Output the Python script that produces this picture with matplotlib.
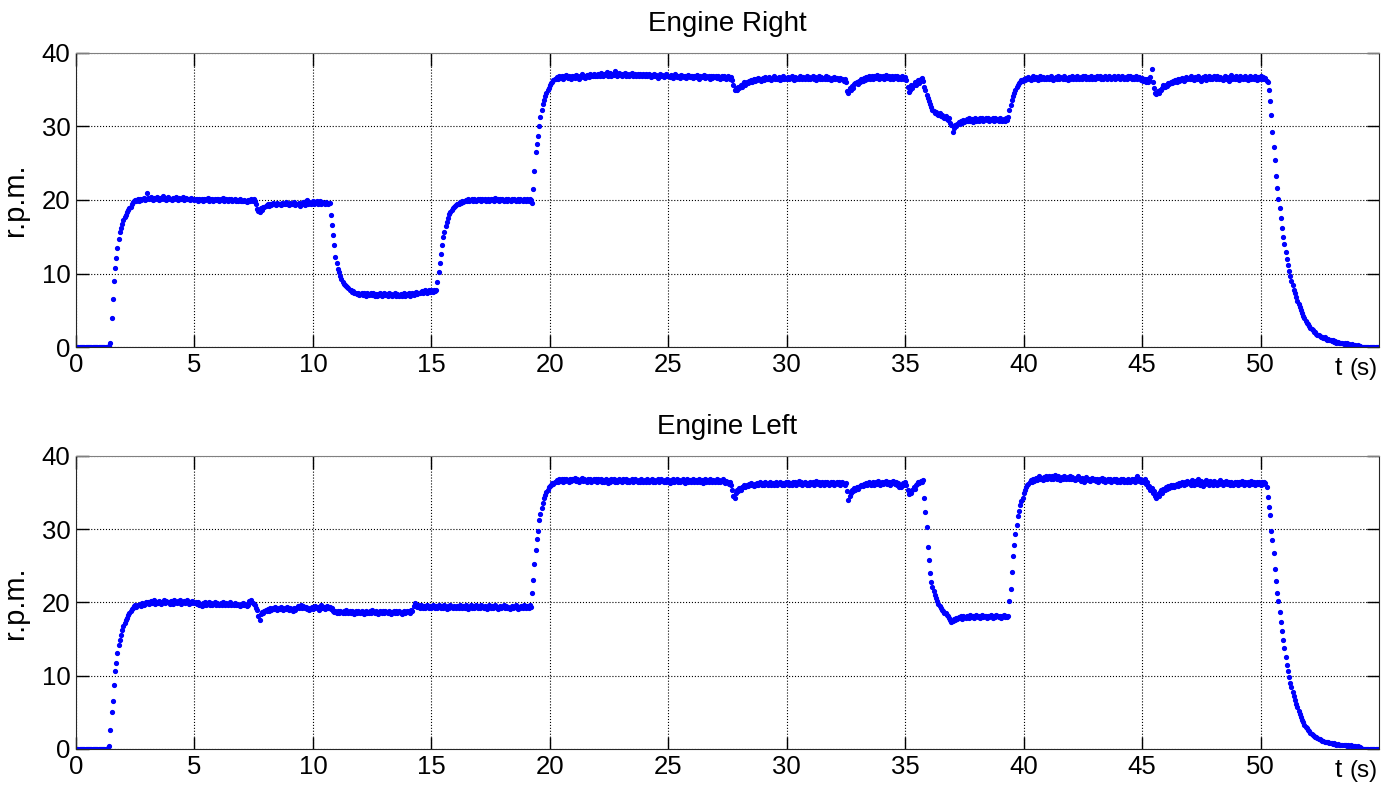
import numpy as np
from matplotlib import pyplot as plt

plt.rcParams['font.family'] = ['Liberation Sans', 'DejaVu Sans']

DT = 0.05  # sample period [s], one row below = one second

rpmRight = [
    0, 0, 0, 0, 0, 0, 0, 0, 0, 0, 0, 0, 0, 0, 0, 0, 0, 0, 0, 0,
    0, 0, 0, 0, 0, 0, 0, 0, 0.1, 0.5, 3.9, 6.6, 9.0, 10.8, 12.1, 13.5, 14.7, 15.6, 16.2, 16.7,
    17.3, 17.7, 18.0, 18.3, 18.6, 18.9, 19.1, 19.4, 19.7, 19.9, 20.0, 19.9, 20.1, 19.9, 20.2, 20.0, 20.1, 20.3, 20.0, 20.2,
    20.9, 20.3, 20.1, 20.4, 20.2, 20.0, 20.3, 20.1, 20.4, 20.2, 20.0, 20.3, 20.2, 20.5, 20.1, 20.3, 20.0, 20.2, 20.4, 20.1,
    20.2, 20.0, 20.3, 20.1, 20.4, 20.2, 20.0, 20.3, 20.1, 20.2, 20.4, 20.0, 20.2, 20.3, 20.1, 20.2, 20.0, 20.3, 20.1, 20.2,
    20.0, 20.2, 20.1, 19.9, 20.2, 20.0, 20.1, 19.9, 20.2, 20.0, 20.1, 20.3, 19.9, 20.1, 20.0, 20.2, 19.9, 20.1, 20.0, 20.2,
    20.1, 19.9, 20.2, 20.0, 20.3, 19.9, 20.1, 20.2, 19.8, 20.1, 20.0, 20.2, 19.9, 20.0, 20.1, 19.9, 20.0, 19.8, 20.1, 19.9,
    19.9, 19.8, 20.0, 19.9, 19.7, 20.0, 19.8, 19.9, 20.1, 19.9, 20.2, 19.9, 19.4, 18.8, 18.5, 18.3, 18.9, 18.6, 19.0, 19.1,
    19.2, 19.3, 19.4, 19.2, 19.5, 19.3, 19.6, 19.4, 19.5, 19.3, 19.6, 19.4, 19.5, 19.3, 19.6, 19.4, 19.5, 19.7, 19.4, 19.5,
    19.3, 19.6, 19.4, 19.5, 19.7, 19.3, 19.5, 19.4, 19.6, 19.2, 19.5, 19.4, 19.7, 19.3, 19.9, 20.0, 19.5, 19.7, 19.4, 19.6,
    19.8, 19.5, 19.7, 19.9, 19.4, 19.6, 19.8, 19.5, 19.7, 19.6, 19.5, 19.7, 19.6, 19.4, 19.6, 18.0, 16.6, 15.2, 13.9, 12.3,
    11.4, 10.6, 10.2, 9.6, 9.3, 8.9, 8.6, 8.5, 8.3, 8.2, 8.0, 7.8, 7.7, 7.5, 7.6, 7.3, 7.4, 7.2, 7.3, 7.1,
    7.2, 7.4, 7.1, 7.3, 7.2, 7.0, 7.3, 7.1, 7.2, 7.4, 7.1, 7.3, 7.0, 7.2, 6.9, 7.2, 7.1, 7.3, 7.0, 7.2,
    7.3, 7.1, 7.2, 7.0, 7.3, 7.1, 7.2, 7.0, 7.1, 7.3, 7.0, 7.2, 7.1, 6.9, 7.2, 7.0, 7.1, 7.3, 7.0, 7.2,
    7.1, 7.3, 7.0, 7.2, 7.4, 7.1, 7.3, 7.5, 7.2, 7.4, 7.3, 7.5, 7.6, 7.3, 7.5, 7.7, 7.4, 7.6, 7.8, 7.5,
    7.7, 7.5, 7.8, 7.6, 7.7, 8.8, 10.2, 11.4, 12.7, 13.9, 15.0, 15.7, 16.4, 17.0, 17.6, 18.1, 18.4, 18.7, 18.9, 19.1,
    19.2, 19.3, 19.5, 19.4, 19.7, 19.6, 19.8, 19.7, 19.9, 20.0, 19.8, 20.1, 19.9, 20.0, 20.2, 19.9, 20.1, 20.0, 19.8, 20.1,
    20.0, 20.2, 19.9, 20.1, 20.0, 20.2, 19.8, 20.0, 20.1, 19.9, 20.2, 20.0, 20.1, 19.9, 20.3, 20.0, 20.1, 19.9, 20.2, 20.0,
    20.1, 19.9, 20.0, 20.2, 19.9, 20.1, 20.0, 19.8, 20.1, 20.0, 20.2, 19.9, 20.0, 20.1, 19.9, 20.2, 20.0, 19.9, 20.1, 20.0,
    19.9, 20.1, 19.8, 20.2, 20.0, 19.6, 21.5, 24.0, 26.5, 27.6, 28.7, 30.0, 31.3, 32.3, 33.0, 33.6, 34.1, 34.6, 35.0, 35.3,
    35.6, 35.9, 36.1, 36.3, 36.5, 36.4, 36.7, 36.5, 36.8, 36.6, 36.9, 36.5, 36.8, 36.7, 37.0, 36.6, 36.9, 36.7, 36.5, 36.8,
    36.9, 36.6, 37.0, 36.7, 36.9, 36.5, 36.8, 37.1, 36.7, 36.9, 36.6, 37.0, 36.8, 36.7, 37.1, 36.8, 36.9, 37.2, 36.8, 37.0,
    36.8, 37.1, 36.9, 37.3, 37.0, 36.8, 37.2, 37.0, 37.4, 36.9, 37.1, 37.3, 36.9, 37.2, 37.0, 37.5, 37.1, 36.9, 37.3, 37.0,
    37.2, 36.8, 37.1, 37.3, 36.9, 37.2, 37.0, 36.8, 37.1, 37.3, 36.9, 37.0, 37.2, 36.8, 37.1, 36.9, 37.2, 37.0, 36.8, 37.1,
    36.9, 37.2, 36.8, 37.0, 37.1, 36.7, 37.0, 36.9, 37.2, 36.8, 37.0, 36.6, 36.9, 37.1, 36.8, 37.0, 36.7, 36.9, 37.1, 36.8,
    36.9, 36.7, 37.0, 36.8, 36.6, 36.9, 37.1, 36.7, 36.9, 36.8, 36.6, 37.0, 36.8, 36.7, 36.9, 36.6, 36.8, 37.0, 36.7, 36.9,
    36.8, 36.6, 36.9, 36.7, 37.0, 36.8, 36.5, 36.9, 36.7, 36.8, 37.0, 36.6, 36.8, 36.7, 36.9, 36.5, 36.8, 36.6, 36.9, 36.7,
    36.8, 36.6, 36.9, 36.7, 36.5, 36.8, 36.6, 36.9, 36.7, 36.5, 36.8, 36.6, 36.4, 36.7, 36.3, 35.6, 35.0, 35.3, 34.9, 35.4,
    35.2, 35.6, 35.4, 35.8, 36.0, 35.7, 36.1, 35.9, 36.2, 36.0, 36.3, 36.1, 36.4, 36.2, 36.5, 36.3, 36.6, 36.4, 36.2, 36.5,
    36.6, 36.3, 36.7, 36.5, 36.4, 36.7, 36.5, 36.3, 36.6, 36.8, 36.4, 36.6, 36.5, 36.7, 36.3, 36.6, 36.5, 36.8, 36.4, 36.6,
    36.5, 36.7, 36.4, 36.6, 36.8, 36.5, 36.3, 36.7, 36.5, 36.6, 36.4, 36.8, 36.6, 36.5, 36.7, 36.4, 36.6, 36.9, 36.5, 36.7,
    36.4, 36.6, 36.8, 36.5, 36.7, 36.3, 36.6, 36.8, 36.5, 36.7, 36.4, 36.6, 36.5, 36.8, 36.4, 36.7, 36.5, 36.3, 36.6, 36.5,
    36.7, 36.4, 36.6, 36.5, 36.3, 36.6, 36.4, 36.5, 36.2, 36.4, 36.0, 34.8, 34.6, 35.2, 35.0, 35.5, 35.3, 35.8, 35.9, 36.1,
    35.8, 36.2, 36.0, 36.4, 36.2, 36.6, 36.3, 36.7, 36.5, 36.9, 36.4, 36.7, 36.9, 36.5, 36.8, 36.6, 37.0, 36.7, 36.5, 36.8,
    36.6, 36.9, 36.5, 36.8, 37.0, 36.6, 36.8, 36.4, 36.7, 36.9, 36.5, 36.8, 36.6, 36.9, 36.4, 36.7, 36.5, 36.8, 36.6, 36.4,
    36.7, 36.3, 35.4, 34.7, 35.0, 35.6, 35.2, 35.7, 36.0, 35.6, 36.1, 36.3, 35.9, 36.4, 36.6, 36.2, 35.4, 35.0, 34.3, 33.9,
    33.4, 33.0, 32.6, 32.3, 32.1, 31.9, 32.0, 31.7, 31.6, 31.8, 31.4, 31.5, 31.3, 31.2, 31.4, 31.0, 30.9, 31.1, 30.5, 30.2,
    29.3, 29.8, 30.2, 30.0, 30.4, 30.6, 30.3, 30.7, 30.5, 30.9, 30.6, 30.8, 31.0, 30.7, 31.1, 30.8, 31.0, 30.6, 30.9, 31.1,
    30.8, 31.0, 30.7, 31.2, 30.9, 31.1, 30.8, 31.0, 31.2, 30.9, 31.1, 30.7, 31.0, 30.9, 31.2, 30.8, 31.1, 30.9, 31.0, 30.8,
    31.1, 30.9, 30.7, 31.0, 30.8, 31.1, 30.9, 31.3, 32.2, 32.9, 33.6, 34.1, 34.6, 35.0, 35.4, 35.7, 35.9, 36.1, 36.3, 36.2,
    36.5, 36.3, 36.6, 36.4, 36.7, 36.5, 36.3, 36.6, 36.8, 36.4, 36.7, 36.5, 36.3, 36.6, 36.8, 36.5, 36.7, 36.4, 36.6, 36.5,
    36.7, 36.4, 36.6, 36.8, 36.5, 36.3, 36.6, 36.7, 36.4, 36.9, 36.5, 36.7, 36.6, 36.4, 36.8, 36.5, 36.6, 36.3, 36.7, 36.5,
    36.6, 36.8, 36.4, 36.7, 36.5, 36.9, 36.6, 36.4, 36.7, 36.5, 36.8, 36.6, 36.9, 36.5, 36.7, 36.4, 36.6, 36.8, 36.5, 36.7,
    36.5, 36.7, 36.9, 36.6, 36.8, 36.5, 36.7, 36.4, 36.6, 36.8, 36.5, 36.7, 36.9, 36.6, 36.4, 36.7, 36.8, 36.5, 36.7, 36.6,
    36.8, 36.5, 36.7, 36.9, 36.6, 36.4, 36.7, 36.5, 36.8, 36.6, 36.9, 36.5, 36.7, 36.4, 36.6, 36.8, 36.5, 36.7, 36.6, 36.3,
    36.6, 36.2, 36.5, 36.0, 36.4, 36.1, 36.3, 36.7, 37.8, 36.0, 35.2, 34.6, 34.4, 34.8, 34.5, 35.0, 34.9, 35.3, 35.6, 35.4,
    35.7, 35.5, 35.9, 35.8, 36.1, 35.9, 36.2, 36.0, 36.3, 36.1, 36.4, 36.2, 36.5, 36.3, 36.6, 36.2, 36.5, 36.7, 36.4, 36.6,
    36.5, 36.8, 36.4, 36.6, 36.3, 36.7, 36.5, 36.9, 36.4, 36.6, 36.2, 36.7, 36.5, 36.8, 36.3, 36.6, 36.9, 36.5, 36.7, 36.4,
    36.6, 36.8, 36.5, 36.9, 36.6, 36.4, 36.7, 36.5, 36.3, 36.6, 36.8, 36.4, 36.7, 36.2, 36.6, 37.0, 36.5, 36.7, 36.4, 36.8,
    36.5, 36.7, 36.3, 36.8, 36.6, 36.4, 36.7, 36.9, 36.5, 36.3, 36.6, 36.8, 36.5, 36.7, 36.4, 36.9, 36.6, 36.3, 36.7, 36.5,
    36.8, 36.4, 36.7, 36.5, 36.6, 36.2, 36.0, 35.0, 33.5, 31.5, 29.3, 27.2, 25.5, 23.3, 21.7, 20.1, 18.9, 17.6, 16.2, 15.0,
    14.0, 12.9, 12.0, 11.2, 10.4, 9.7, 9.0, 8.4, 7.8, 7.3, 6.8, 6.3, 5.8, 5.4, 5.0, 4.6, 4.2, 3.9, 3.6, 3.3,
    3.1, 2.8, 2.6, 2.4, 2.3, 2.1, 2.0, 1.8, 1.7, 1.7, 1.5, 1.4, 1.4, 1.2, 1.3, 1.1, 1.0, 1.1, 0.9, 0.9,
    0.8, 0.9, 0.7, 0.8, 0.6, 0.7, 0.6, 0.5, 0.6, 0.5, 0.4, 0.5, 0.4, 0.5, 0.3, 0.4, 0.3, 0.4, 0.3, 0.2,
    0.3, 0.2, 0.3, 0.2, 0.1, 0, 0, 0, 0, 0, 0, 0, 0, 0, 0, 0, 0, 0, 0, 0,
    0,
]

rpmLeft = [
    0, 0, 0, 0, 0, 0, 0, 0, 0, 0, 0, 0, 0, 0, 0, 0, 0, 0, 0, 0,
    0, 0, 0, 0, 0, 0, 0, 0.2, 0.4, 2.6, 5.0, 6.6, 8.7, 10.6, 11.8, 13.1, 14.2, 14.9, 15.5, 16.2,
    16.8, 17.2, 17.6, 17.9, 18.3, 18.6, 18.8, 19.1, 19.3, 19.5, 19.6, 19.4, 19.7, 19.6, 19.8, 19.5, 19.9, 19.7, 19.8, 20.0,
    19.9, 20.1, 19.8, 20.2, 19.9, 20.0, 20.3, 19.8, 20.1, 19.9, 20.2, 20.0, 19.8, 20.1, 20.3, 19.9, 20.2, 20.0, 20.1, 19.8,
    20.2, 20.0, 19.8, 20.3, 20.1, 19.9, 20.2, 20.0, 20.3, 19.8, 20.1, 20.2, 19.9, 20.0, 20.3, 19.8, 20.1, 19.9, 20.2, 20.0,
    19.9, 20.1, 19.8, 20.0, 19.6, 19.8, 19.5, 19.9, 19.7, 20.0, 19.6, 19.8, 20.1, 19.7, 19.9, 19.6, 19.8, 20.0, 19.7, 19.9,
    19.8, 19.6, 19.9, 19.7, 20.0, 19.8, 19.6, 19.9, 19.7, 19.8, 20.0, 19.6, 19.8, 19.7, 19.9, 19.6, 19.8, 19.7, 19.5, 19.8,
    19.7, 19.9, 19.6, 19.8, 19.5, 19.7, 20.2, 20.0, 20.3, 19.9, 19.8, 19.6, 19.3, 19.0, 18.2, 17.6, 18.4, 18.7, 18.6, 18.9,
    19.0, 18.8, 19.1, 18.9, 19.2, 19.0, 19.3, 19.1, 19.4, 19.2, 19.0, 19.3, 19.1, 19.4, 19.2, 19.0, 19.3, 19.1, 19.4, 19.2,
    19.0, 19.3, 19.1, 18.9, 19.2, 19.0, 19.3, 19.5, 19.2, 19.4, 19.6, 19.3, 19.5, 19.2, 19.4, 19.1, 19.3, 19.0, 19.2, 19.4,
    19.1, 19.3, 19.5, 19.2, 19.4, 19.0, 19.3, 19.6, 19.2, 19.4, 19.1, 19.3, 19.5, 19.2, 19.4, 19.1, 19.3, 18.9, 18.7, 18.9,
    18.6, 18.8, 18.5, 18.9, 18.7, 18.5, 18.8, 18.6, 19.0, 18.7, 18.5, 18.8, 18.6, 18.9, 18.7, 18.4, 18.8, 18.6, 18.9, 18.7,
    18.5, 18.8, 18.6, 18.4, 18.7, 18.9, 18.6, 18.5, 18.8, 18.6, 19.0, 18.7, 18.5, 18.8, 18.6, 18.4, 18.7, 18.9, 18.5, 18.8,
    18.6, 18.9, 18.7, 18.5, 18.8, 18.6, 18.4, 18.7, 18.9, 18.6, 18.8, 18.5, 18.7, 18.9, 18.6, 18.4, 18.7, 18.9, 18.6, 18.8,
    18.7, 18.9, 18.6, 19.0, 18.8, 19.5, 19.9, 19.6, 19.4, 19.7, 19.3, 19.6, 19.4, 19.2, 19.5, 19.3, 19.6, 19.4, 19.2, 19.5,
    19.3, 19.6, 19.4, 19.2, 19.5, 19.3, 19.6, 19.4, 19.2, 19.5, 19.3, 19.6, 19.4, 19.1, 19.5, 19.3, 19.6, 19.4, 19.2, 19.5,
    19.4, 19.2, 19.5, 19.3, 19.6, 19.4, 19.2, 19.5, 19.3, 19.6, 19.4, 19.1, 19.4, 19.6, 19.3, 19.5, 19.2, 19.4, 19.6, 19.3,
    19.5, 19.3, 19.6, 19.4, 19.2, 19.5, 19.3, 19.1, 19.4, 19.6, 19.3, 19.5, 19.2, 19.4, 19.6, 19.3, 19.1, 19.4, 19.5, 19.2,
    19.4, 19.6, 19.3, 19.5, 19.2, 19.4, 19.1, 19.3, 19.5, 19.2, 19.4, 19.6, 19.3, 19.1, 19.4, 19.2, 19.5, 19.3, 19.6, 19.4,
    19.2, 19.5, 19.3, 19.6, 19.4, 21.3, 23.0, 25.3, 27.1, 28.6, 29.8, 31.2, 32.1, 32.9, 33.6, 34.2, 34.7, 35.1, 35.4, 35.7,
    35.9, 36.1, 36.3, 36.2, 36.5, 36.4, 36.7, 36.5, 36.8, 36.6, 36.9, 36.5, 36.8, 36.6, 36.9, 36.7, 36.5, 36.8, 36.6, 36.9,
    36.7, 37.0, 36.6, 36.9, 36.7, 36.5, 36.8, 37.0, 36.6, 36.9, 36.7, 36.5, 36.8, 36.6, 36.9, 36.4, 36.7, 36.9, 36.6, 36.8,
    36.5, 36.8, 36.6, 36.9, 36.4, 36.7, 36.5, 36.8, 36.6, 36.3, 36.7, 36.5, 36.8, 36.6, 36.9, 36.5, 36.7, 36.4, 36.8, 36.6,
    36.7, 36.4, 36.8, 36.6, 36.9, 36.5, 36.7, 36.4, 36.6, 36.8, 36.5, 36.7, 36.9, 36.6, 36.4, 36.7, 36.5, 36.8, 36.6, 36.4,
    36.7, 36.5, 36.8, 36.6, 36.4, 36.7, 36.9, 36.5, 36.7, 36.4, 36.6, 36.8, 36.5, 36.7, 36.9, 36.6, 36.4, 36.7, 36.5, 36.8,
    36.6, 36.3, 36.7, 36.5, 36.8, 36.4, 36.6, 36.9, 36.5, 36.7, 36.4, 36.6, 36.8, 36.5, 36.3, 36.7, 36.9, 36.5, 36.7, 36.4,
    36.6, 36.8, 36.5, 36.7, 36.4, 36.6, 36.9, 36.5, 36.7, 36.3, 36.6, 36.8, 36.5, 36.7, 36.4, 36.8, 36.6, 36.5, 36.7, 36.4,
    36.6, 36.8, 36.5, 36.7, 36.4, 36.6, 36.8, 36.5, 36.3, 36.6, 36.4, 36.2, 36.5, 36.0, 35.4, 34.6, 34.3, 34.9, 35.4, 35.2,
    35.6, 35.4, 35.8, 35.7, 36.0, 35.8, 36.1, 35.9, 36.2, 36.0, 36.3, 36.1, 35.9, 36.2, 36.0, 36.3, 36.1, 36.4, 36.2, 36.0,
    36.3, 36.1, 36.4, 36.2, 36.0, 36.3, 36.5, 36.1, 36.3, 36.0, 36.2, 36.4, 36.1, 36.3, 36.5, 36.2, 36.0, 36.3, 36.1, 36.4,
    36.2, 36.5, 36.1, 36.3, 36.0, 36.4, 36.2, 36.5, 36.1, 36.3, 36.6, 36.2, 36.4, 36.1, 36.3, 36.5, 36.2, 36.0, 36.3, 36.1,
    36.4, 36.2, 36.5, 36.1, 36.3, 36.6, 36.2, 36.4, 36.0, 36.3, 36.5, 36.1, 36.4, 36.2, 36.5, 36.3, 36.0, 36.4, 36.2, 36.5,
    36.1, 36.3, 36.5, 36.2, 36.4, 36.1, 36.3, 36.5, 36.2, 36.0, 36.3, 35.2, 34.0, 34.6, 35.0, 35.4, 35.2, 35.6, 35.4, 35.7,
    35.5, 35.8, 35.9, 36.1, 35.9, 36.2, 36.0, 36.3, 36.1, 36.4, 36.2, 36.0, 36.3, 36.5, 36.1, 36.4, 36.2, 36.6, 36.3, 36.1,
    36.4, 36.2, 36.5, 36.3, 36.6, 36.2, 36.4, 36.1, 36.5, 36.3, 36.6, 36.2, 36.4, 36.1, 36.3, 35.8, 35.7, 36.0, 36.3, 36.1,
    36.4, 36.0, 35.3, 34.8, 35.2, 34.9, 35.4, 35.7, 35.5, 36.0, 36.2, 36.5, 36.3, 36.6, 36.4, 36.7, 34.2, 32.4, 30.3, 27.6,
    25.8, 24.0, 22.8, 22.1, 21.5, 21.0, 20.6, 20.2, 19.8, 19.5, 19.2, 19.0, 18.8, 18.6, 18.5, 18.3, 18.1, 17.9, 17.6, 17.4,
    17.5, 17.7, 17.6, 17.9, 17.8, 18.0, 17.9, 18.1, 17.8, 18.2, 18.0, 17.9, 18.2, 18.1, 17.9, 18.3, 18.0, 18.2, 17.9, 18.1,
    18.3, 18.0, 18.2, 17.9, 18.1, 18.3, 18.0, 18.2, 18.1, 17.9, 18.2, 18.0, 18.3, 18.1, 17.9, 18.2, 18.0, 18.3, 18.1, 18.0,
    18.2, 17.9, 18.1, 18.3, 18.0, 18.2, 18.0, 18.1, 20.2, 21.9, 24.2, 26.3, 27.9, 29.3, 30.6, 31.8, 32.5, 33.3, 33.9, 34.3,
    34.9, 35.4, 35.7, 36.0, 36.2, 36.4, 36.7, 36.5, 36.8, 36.6, 37.0, 36.7, 36.9, 37.2, 36.8, 37.0, 36.7, 37.1, 36.9, 37.2,
    36.9, 37.3, 37.0, 36.8, 37.2, 36.9, 37.4, 37.1, 36.8, 37.2, 37.0, 36.7, 37.1, 36.9, 37.3, 37.0, 36.8, 37.1, 36.9, 37.2,
    36.8, 37.1, 36.9, 36.7, 37.0, 36.8, 37.2, 36.9, 36.6, 37.0, 36.8, 36.5, 36.9, 37.1, 36.7, 36.9, 36.6, 36.8, 37.0, 36.7,
    36.9, 36.6, 36.8, 36.5, 36.9, 36.7, 37.0, 36.6, 36.8, 36.5, 36.7, 36.9, 36.6, 36.8, 36.4, 36.7, 36.9, 36.6, 36.8, 36.5,
    36.7, 36.5, 36.8, 36.6, 36.9, 36.5, 36.7, 36.4, 36.8, 36.6, 36.5, 36.8, 36.6, 36.9, 36.5, 36.7, 37.3, 36.6, 36.8, 36.5,
    36.7, 36.4, 36.9, 36.2, 36.5, 35.7, 35.9, 35.4, 35.6, 35.0, 35.2, 34.6, 34.2, 34.8, 34.5, 35.1, 35.3, 35.0, 35.5, 35.3,
    35.7, 35.5, 35.9, 35.6, 36.0, 35.8, 36.1, 35.7, 36.0, 36.2, 35.9, 36.3, 36.0, 36.2, 36.5, 36.1, 36.4, 36.2, 36.6, 36.3,
    36.5, 36.1, 36.7, 36.3, 36.0, 36.6, 36.2, 36.8, 36.4, 36.1, 36.6, 35.9, 36.5, 36.2, 36.7, 36.3, 36.0, 36.6, 36.2, 36.5,
    36.1, 36.6, 36.3, 36.0, 36.5, 36.2, 36.7, 36.4, 36.1, 36.5, 36.3, 36.6, 36.2, 36.4, 36.1, 36.5, 36.3, 36.0, 36.4, 36.2,
    36.5, 36.1, 36.4, 36.2, 36.6, 36.3, 36.0, 36.4, 36.2, 36.5, 36.1, 36.3, 36.6, 36.2, 36.4, 36.0, 36.3, 36.5, 36.2, 36.4,
    36.1, 36.4, 36.2, 36.5, 36.3, 35.8, 34.4, 33.1, 31.9, 29.8, 28.5, 26.7, 24.6, 22.9, 21.3, 20.2, 18.7, 17.3, 16.1, 14.9,
    13.8, 12.6, 11.5, 10.6, 9.8, 9.0, 8.4, 7.8, 7.2, 6.7, 6.2, 5.7, 5.2, 4.8, 4.4, 4.0, 3.7, 3.3, 3.0, 2.8,
    2.6, 2.4, 2.2, 2.1, 1.9, 1.8, 1.7, 1.6, 1.5, 1.4, 1.3, 1.2, 1.1, 1.1, 1.0, 1.0, 0.9, 0.9, 0.8, 0.8,
    0.8, 0.7, 0.8, 0.7, 0.6, 0.7, 0.6, 0.5, 0.6, 0.6, 0.5, 0.6, 0.5, 0.4, 0.5, 0.4, 0.5, 0.4, 0.3, 0.4,
    0.4, 0.3, 0.4, 0.2, 0.3, 0.1, 0, 0, 0, 0, 0, 0, 0, 0, 0, 0, 0, 0, 0, 0,
    0,
]

titles = ['Engine Right', 'Engine Left']
xTicks = [0, 5, 10, 15, 20, 25, 30, 35, 40, 45, 50]
yTicks = [0, 10, 20, 30, 40]


def plotEngine(ax, rpm, title):
    t = np.arange(len(rpm)) * DT
    ax.plot(t, rpm, linestyle='none', marker='.', markersize=5.5, color='#0000ff')

    ax.set_xlim(0, 55)
    ax.set_ylim(0, 40)
    ax.set_xticks(xTicks)
    ax.set_yticks(yTicks)
    ax.grid(True, color='black', linestyle=':', linewidth=0.8)
    ax.tick_params(direction='in', length=9, width=1, top=True, right=True, labelsize=18.5, pad=4)
    for side in ['left', 'bottom', 'right']:
        ax.spines[side].set_color('0.15')
    ax.spines['top'].set_color('0.5')

    ax.set_title(title, fontsize=20, pad=16)
    ax.set_ylabel('r.p.m.', fontsize=21)
    ax.yaxis.set_label_coords(-0.036, 0.5)

    ax.text(0.969, -0.095, 't', transform=ax.transAxes, ha='center', va='baseline', fontsize=19)
    ax.text(0.988, -0.095, '(s)', transform=ax.transAxes, ha='center', va='baseline', fontsize=17.5)


fig = plt.figure(figsize=(13.95, 7.86), dpi=100)
axTop = fig.add_axes([0.0545, 0.5585, 0.9341, 0.3741])
axBot = fig.add_axes([0.0545, 0.0471, 0.9341, 0.3728])

plotEngine(axTop, rpmRight, titles[0])
plotEngine(axBot, rpmLeft, titles[1])

plt.savefig('out.png', dpi=100)
plt.close(fig)
